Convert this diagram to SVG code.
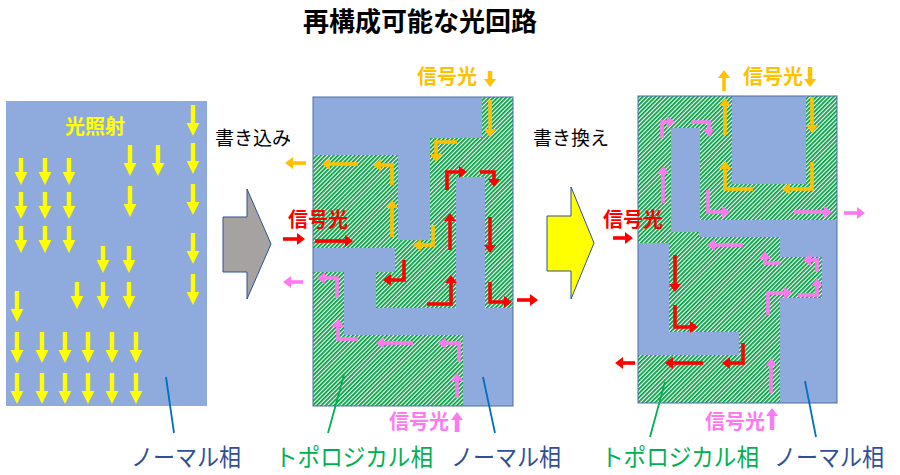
<svg xmlns="http://www.w3.org/2000/svg" xmlns:xlink="http://www.w3.org/1999/xlink" width="900" height="475" viewBox="0 0 900 475">
<defs>
<style>
text{font-family:"Noto Sans CJK JP","Noto Sans",sans-serif}
.title{font-size:26px;font-weight:bold;fill:#000}
.verb{font-size:19px;fill:#000}
.sig{font-size:20px;font-weight:bold}
.lbl{font-size:24px}
.blue{fill:#8faadc}
.panel{stroke:#4a6ea8;stroke-width:1}
.ar{fill:none;stroke-width:3.6;stroke-linejoin:miter}
.big{stroke-width:4.5}
.o{stroke:#ffc000;marker-end:url(#mo)}
.r{stroke:#ff0000;marker-end:url(#mr)}
.p{stroke:#ff78ef;marker-end:url(#mp)}
.yl{fill:#ffff00}
.lead{fill:none;stroke-width:1.8}
</style>
<pattern id="hatch" width="3" height="3" patternUnits="userSpaceOnUse" patternTransform="rotate(45)">
<rect width="3" height="3" fill="#ffffff"/>
<rect width="1.8" height="3" fill="#00a040"/>
</pattern>
<marker id="mo" viewBox="0 0 8 12" refX="2" refY="6" markerWidth="8" markerHeight="12" markerUnits="userSpaceOnUse" orient="auto"><path d="M0,0 L8,6 L0,12 Z" fill="#ffc000"/></marker>
<marker id="mr" viewBox="0 0 8 12" refX="2" refY="6" markerWidth="8" markerHeight="12" markerUnits="userSpaceOnUse" orient="auto"><path d="M0,0 L8,6 L0,12 Z" fill="#ff0000"/></marker>
<marker id="mp" viewBox="0 0 8 12" refX="2" refY="6" markerWidth="8" markerHeight="12" markerUnits="userSpaceOnUse" orient="auto"><path d="M0,0 L8,6 L0,12 Z" fill="#ff78ef"/></marker>
<path id="ys" d="M-2.2,0 H2.2 V14 H6.4 L0,27 L-6.4,14 H-2.2 Z"/>
<path id="yln" d="M-2.2,0 H2.2 V18 H6.4 L0,31 L-6.4,18 H-2.2 Z"/>
</defs>
<rect width="900" height="475" fill="#ffffff"/>

<g id="title"><text class="title" x="420" y="31" text-anchor="middle">再構成可能な光回路</text></g>

<g id="panel-initial">
<rect x="6" y="101" width="201" height="305" class="blue"/>
<text class="sig" x="65" y="134" fill="#ffff00">光照射</text>
<g class="yl">
<use href="#ys" x="21" y="158"/><use href="#ys" x="45" y="158"/><use href="#ys" x="69" y="158"/>
<use href="#ys" x="21" y="192"/><use href="#ys" x="45" y="192"/><use href="#ys" x="69" y="192"/>
<use href="#ys" x="21" y="226"/><use href="#ys" x="45" y="226"/><use href="#ys" x="69" y="226"/>
<use href="#ys" x="103" y="246"/><use href="#ys" x="129" y="246"/>
<use href="#ys" x="77" y="282"/><use href="#ys" x="103" y="282"/><use href="#ys" x="129" y="282"/>
<use href="#yln" x="130" y="145"/><use href="#yln" x="130" y="186"/><use href="#yln" x="158" y="145"/>
<use href="#yln" x="193" y="105"/><use href="#yln" x="193" y="143"/><use href="#yln" x="193" y="184"/>
<use href="#yln" x="193" y="233"/><use href="#yln" x="193" y="274"/>
<use href="#yln" x="17" y="291"/>
<use href="#yln" x="17" y="332"/><use href="#yln" x="42" y="332"/><use href="#yln" x="65" y="332"/><use href="#yln" x="88" y="332"/><use href="#yln" x="112" y="332"/><use href="#yln" x="136" y="332"/>
<use href="#yln" x="17" y="373"/><use href="#yln" x="42" y="373"/><use href="#yln" x="65" y="373"/><use href="#yln" x="88" y="373"/><use href="#yln" x="112" y="373"/><use href="#yln" x="136" y="373"/>
</g>
</g>

<g id="step-write">
<text class="verb" x="215" y="145">書き込み</text>
<path d="M223,217 H247 V189 L271,244 L247,299 V272 H223 Z" fill="#a7a2a2" stroke="#2f528f" stroke-width="1"/>
</g>

<g id="panel-written">
<rect x="313" y="97" width="200" height="309" fill="url(#hatch)"/>
<g class="blue">
<rect x="313" y="97" width="169" height="41"/>
<rect x="313" y="137" width="117" height="18"/>
<rect x="398" y="154" width="32" height="86"/>
<rect x="456" y="177" width="29" height="132"/>
<rect x="313" y="248" width="82" height="24"/>
<rect x="344" y="271" width="32" height="38"/>
<rect x="344" y="308" width="169" height="27"/>
<rect x="463" y="334" width="50" height="72"/>
</g>
<rect x="313" y="97" width="200" height="309" fill="none" class="panel"/>
<text class="sig" x="417" y="84" fill="#ffc000">信号光</text>
<text class="sig" x="288" y="227" fill="#ff0000">信号光</text>
<text class="sig" x="389" y="429" fill="#ff78ef">信号光</text>
</g>

<g id="step-rewrite">
<text class="verb" x="533" y="145">書き換え</text>
<path d="M547,216 H571 V187 L594,243 L571,299 V271 H547 Z" fill="#ffff00" stroke="#2f528f" stroke-width="1"/>
</g>

<g id="panel-rewritten">
<rect x="638" y="96" width="199" height="307" fill="url(#hatch)"/>
<g class="blue">
<rect x="732" y="96" width="74" height="88"/>
<rect x="671" y="128" width="29" height="104"/>
<rect x="699" y="220" width="138" height="17"/>
<rect x="780" y="236" width="57" height="21"/>
<rect x="822" y="256" width="15" height="43"/>
<rect x="780" y="298" width="57" height="105"/>
<rect x="638" y="243" width="31" height="112"/>
<rect x="668" y="332" width="71" height="23"/>
</g>
<rect x="638" y="96" width="199" height="307" fill="none" class="panel"/>
<text class="sig" x="743" y="84" fill="#ffc000">信号光</text>
<text class="sig" x="603" y="227" fill="#ff0000">信号光</text>
<text class="sig" x="705" y="429" fill="#ff78ef">信号光</text>
</g>

<g id="labels">
<text class="lbl" x="131" y="466" fill="#2f4f9a" textLength="110" lengthAdjust="spacingAndGlyphs">ノーマル相</text>
<text class="lbl" x="275" y="466" fill="#00b050" textLength="158" lengthAdjust="spacingAndGlyphs">トポロジカル相</text>
<text class="lbl" x="451" y="466" fill="#2f4f9a" textLength="110" lengthAdjust="spacingAndGlyphs">ノーマル相</text>
<text class="lbl" x="601" y="466" fill="#00b050" textLength="158" lengthAdjust="spacingAndGlyphs">トポロジカル相</text>
<text class="lbl" x="774" y="466" fill="#2f4f9a" textLength="110" lengthAdjust="spacingAndGlyphs">ノーマル相</text>
</g>

<g id="connectors">
<g class="lead">
<path d="M166,377 L174,433" stroke="#0070c0"/>
<path d="M344,375 L328,433" stroke="#00b050"/>
<path d="M483,377 L495,433" stroke="#0070c0"/>
<path d="M665,382 L650,437" stroke="#00b050"/>
<path d="M805,381 L816,437" stroke="#0070c0"/>
</g>
<g class="ar">
<!-- middle panel: orange -->
<path class="o big" d="M490,71 V81"/>
<path class="o" d="M306,163 H291"/>
<path class="o" d="M490,100 V131"/>
<path class="o" d="M457,142 H436 V156"/>
<path class="o" d="M358,164 H328"/>
<path class="o" d="M392,185 V165 H379"/>
<path class="o" d="M392,237 V206"/>
<path class="o" d="M433,225 V245 H419"/>
<!-- middle panel: red -->
<path class="r" d="M283,239 H299"/>
<path class="r" d="M315,241 H347"/>
<path class="r" d="M447,190 V172 H461"/>
<path class="r" d="M480,172 H494 V181"/>
<path class="r" d="M450,250 V219"/>
<path class="r" d="M490,217 V247"/>
<path class="r" d="M404,260 V280 H389"/>
<path class="r" d="M427,304 H451 V281"/>
<path class="r" d="M490,282 V302 H506"/>
<path class="r" d="M517,300 H532"/>
<!-- middle panel: pink -->
<path class="p" d="M303,282 H289"/>
<path class="p" d="M337,298 V278 H323"/>
<path class="p" d="M358,339 H338 V325"/>
<path class="p" d="M413,343 H382"/>
<path class="p" d="M459,362 V343 H444"/>
<path class="p" d="M457,398 V379"/>
<path class="p big" d="M457,432 V418"/>
<!-- right panel: orange -->
<path class="o" d="M724,91 V76"/>
<path class="o big" d="M810,67 V81"/>
<path class="o" d="M725,135 V104"/>
<path class="o" d="M812,97 V127"/>
<path class="o" d="M812,162 V189 H788"/>
<path class="o" d="M753,189 H725 V167"/>
<!-- right panel: pink -->
<path class="p" d="M662,138 V122 H669"/>
<path class="p" d="M691,122 H709 V131"/>
<path class="p" d="M663,203 V172"/>
<path class="p" d="M708,190 V212 H724"/>
<path class="p" d="M794,212 H826"/>
<path class="p" d="M844,213 H859"/>
<path class="p" d="M743,245 H713"/>
<path class="p" d="M780,263 H765 V257"/>
<path class="p" d="M817,272 V260 H809"/>
<path class="p" d="M798,295 H817 V284"/>
<path class="p" d="M768,315 V293 H786"/>
<path class="p" d="M771,393 V364"/>
<path class="p big" d="M772,430 V414"/>
<!-- right panel: red -->
<path class="r" d="M613,238 H627"/>
<path class="r" d="M675,255 V286"/>
<path class="r" d="M675,305 V327 H692"/>
<path class="r" d="M743,343 V363 H728"/>
<path class="r" d="M703,363 H671"/>
<path class="r" d="M635,363 H621"/>
</g>
</g>
</svg>
